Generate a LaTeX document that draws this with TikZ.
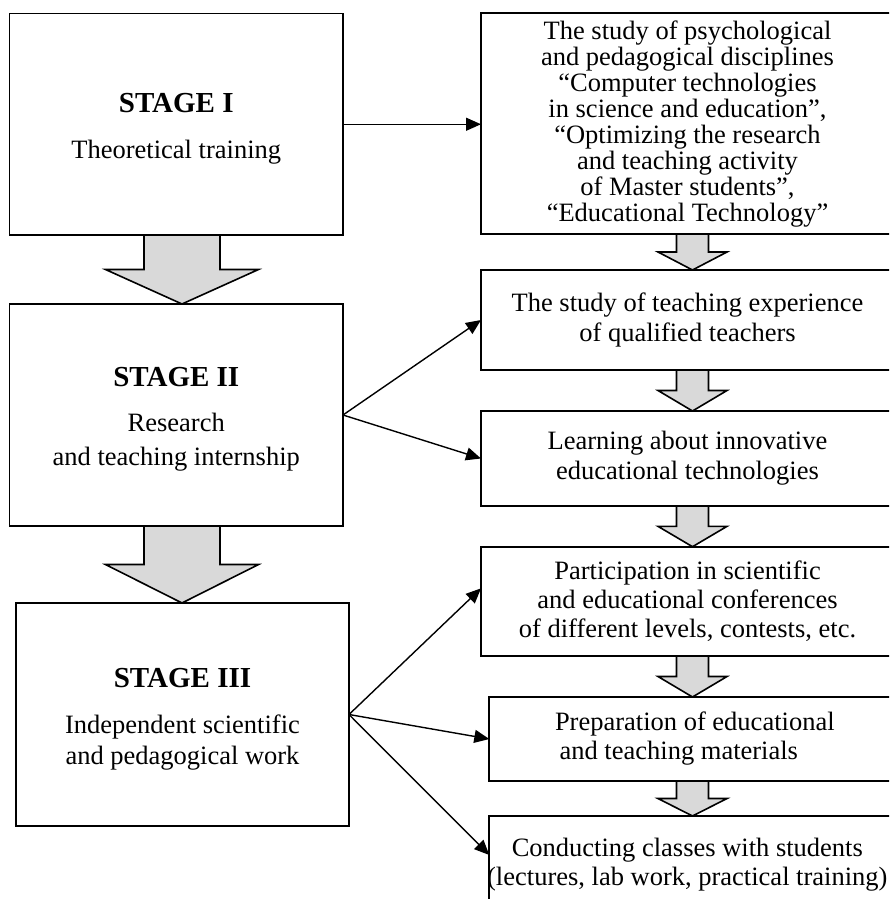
\documentclass[tikz,border=0pt]{standalone}
\usepackage{fontspec}
\setmainfont{Liberation Serif}
\usetikzlibrary{arrows.meta,backgrounds,calc}
\definecolor{arrowgray}{RGB}{217,217,217}
\newcommand\blockarr[5]{%
  \draw[blk] let \p1=(#1.south), \p2=(#2.north) in
    ({#3pt-#4pt},\y1) -- ({#3pt-#4pt},{0.5*\y1+0.5*\y2}) -- ({#3pt-#5pt},{0.5*\y1+0.5*\y2})
    -- (#3pt,\y2) -- ({#3pt+#5pt},{0.5*\y1+0.5*\y2}) -- ({#3pt+#4pt},{0.5*\y1+0.5*\y2})
    -- ({#3pt+#4pt},\y1);}
\newcommand\stagehead[1]{{\fontsize{29}{32}\selectfont\bfseries\rule{0pt}{28pt}#1}}
\begin{document}
\begin{tikzpicture}[x=1pt,y=-1pt,
  box/.style={draw, line width=1.8pt, rectangle, inner sep=0pt, outer sep=0pt,
    anchor=north west, align=center},
  stagebox/.style={box, font=\fontsize{26.5}{32}\selectfont},
  infobox/.style={box, font=\fontsize{26.5}{29.5}\selectfont},
  link/.style={line width=1.4pt, -{Triangle[length=15pt,width=13pt]}},
  blk/.style={draw, line width=1.6pt, fill=arrowgray, line join=miter}]
\useasboundingbox (0,0) rectangle (889,899);
\clip (0,0) rectangle (889,899);

% left stage boxes
\node[stagebox, minimum width=333.5pt, minimum height=221.5pt] (s1) at (9.5,13.5)
  {\stagehead{STAGE I}\\[14pt]Theoretical training};
\node[stagebox, font=\fontsize{26.5}{33.5}\selectfont, minimum width=333.5pt, minimum height=222pt] (s2) at (9.5,304)
  {\stagehead{STAGE II}\\[11.5pt]Research\\and teaching internship};
\node[stagebox, font=\fontsize{26.5}{31}\selectfont, minimum width=333pt, minimum height=223pt] (s3) at (16,603)
  {\stagehead{STAGE III}\\[15pt]Independent scientific\\and pedagogical work};

% right boxes
\node[infobox, font=\fontsize{26.5}{26}\selectfont, minimum width=413pt, minimum height=220.7pt] (r1) at (481,13.3)
  {The study of psychological\\and pedagogical disciplines\\“Computer technologies\\in science and education”,\\“Optimizing the research\\and teaching activity\\of Master students”,\\“Educational Technology”};
\node[infobox, font=\fontsize{26.5}{30}\selectfont, minimum width=413pt, minimum height=100pt] (r2) at (481,270)
  {The study of teaching experience\\of qualified teachers};
\node[infobox, font=\fontsize{26.5}{30}\selectfont, minimum width=413pt, minimum height=95pt] (r3) at (481,411)
  {Learning about innovative\\educational technologies};
\node[infobox, font=\fontsize{26.5}{29}\selectfont, minimum width=413pt, minimum height=109.3pt] (r4) at (481,546.7)
  {Participation in scientific\\and educational conferences\\of different levels, contests, etc.};
\node[infobox, font=\fontsize{26.5}{29}\selectfont, minimum width=411pt, minimum height=84pt] (r5) at (489.3,697)
  {\makebox[0pt]{Preparation of educational}\\\makebox[0pt]{and teaching materials\hspace{32pt}}};
\node[infobox, font=\fontsize{26.5}{29}\selectfont, minimum width=411pt, minimum height=97pt] (r6) at (489.3,816)
  {\makebox[0pt]{Conducting classes with students\hspace{15pt}}\\\makebox[0pt]{(lectures, lab work, practical training)\hspace{15pt}}};

% block arrows
\begin{scope}[on background layer]
  \blockarr{s1}{s2}{182}{38}{76.5}
  \blockarr{s2}{s3}{182}{38}{76.5}
  \blockarr{r1}{r2}{692.5}{16}{34.5}
  \blockarr{r2}{r3}{692.5}{16}{34.5}
  \blockarr{r3}{r4}{692.5}{16}{34.5}
  \blockarr{r4}{r5}{692.5}{16}{34.5}
  \blockarr{r5}{r6}{692.5}{16}{34.5}
\end{scope}

% connectors
\draw[link] (s1.east) -- (s1.east -| r1.west);
\draw[link] (s2.east) -- (r2.west);
\draw[link] (s2.east) -- (r3.west);
\draw[link] (s3.east) -- ([yshift=13pt]r4.west);
\draw[link] (s3.east) -- (r5.west);
\draw[link] (s3.east) -- ([yshift=-39pt]r6.north west);
\end{tikzpicture}
\end{document}
